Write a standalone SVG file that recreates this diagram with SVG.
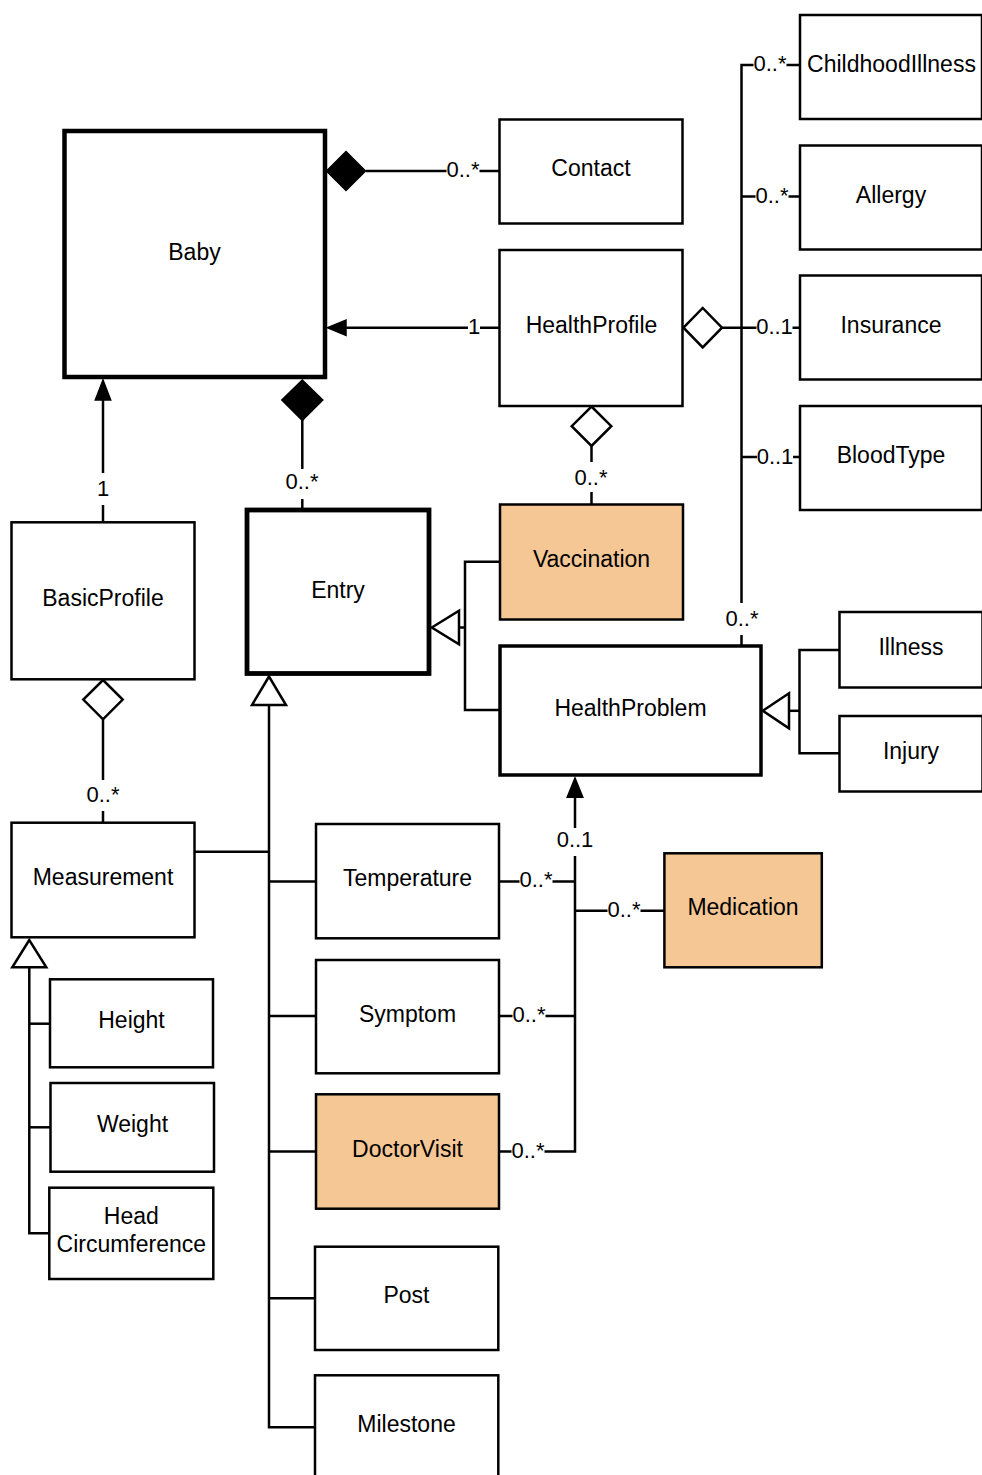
<svg xmlns="http://www.w3.org/2000/svg" width="982" height="1475" viewBox="0 0 982 1475">
<style>
.n{fill:#fff;stroke:#000;stroke-width:2.5}
.f{fill:#f5c795}
.t{font-family:"Liberation Sans",Arial,sans-serif;font-size:23px;fill:#000;text-anchor:middle}
.c{fill:none;stroke:#000;stroke-width:2.5}
.fill{fill:#000;stroke:#000;stroke-width:1.5;stroke-linejoin:miter}
.open{fill:#fff;stroke:#000;stroke-width:2.5;stroke-linejoin:miter}
.lb{fill:#fff}
.l{font-family:"Liberation Sans",Arial,sans-serif;font-size:22px;fill:#000;text-anchor:middle}
</style>
<rect width="982" height="1475" fill="#fff"/>
<g id="connectors">
<line class="c" x1="366" y1="171" x2="500" y2="171"/>
<polygon class="fill" points="326.5,171 346,151.5 365.5,171 346,190.5"/>
<line class="c" x1="345" y1="327.7" x2="500" y2="327.7"/>
<polygon class="fill" points="327.5,327.7 346,320 346,335.4"/>
<polyline class="c" points="800,65 741.5,65 741.5,646"/>
<line class="c" x1="741.5" y1="196.5" x2="800" y2="196.5"/>
<line class="c" x1="722" y1="327.7" x2="800" y2="327.7"/>
<line class="c" x1="741.5" y1="457" x2="800" y2="457"/>
<polygon class="open" points="683.5,327.7 702.7,308 722,327.7 702.7,347.4"/>
<line class="c" x1="591.5" y1="446" x2="591.5" y2="504.5"/>
<polygon class="open" points="591.5,406.5 611.3,426.2 591.5,446 571.7,426.2"/>
<line class="c" x1="302.3" y1="420" x2="302.3" y2="510"/>
<polygon class="fill" points="302.3,380 322.8,400 302.3,420.5 281.8,400"/>
<line class="c" x1="103" y1="399" x2="103" y2="522.3"/>
<polygon class="fill" points="103,380 95.3,400 110.7,400"/>
<line class="c" x1="103" y1="719.3" x2="103" y2="822.7"/>
<polygon class="open" points="103,680 122.7,699.6 103,719.3 83.3,699.6"/>
<polyline class="c" points="500,561.7 465,561.7 465,710 500,710"/>
<line class="c" x1="459" y1="627.5" x2="465" y2="627.5"/>
<polygon class="open" points="431.8,627.5 459,610.7 459,644.3"/>
<polyline class="c" points="269,705 269,1427.3 315,1427.3"/>
<line class="c" x1="194.7" y1="851.7" x2="269" y2="851.7"/>
<line class="c" x1="269" y1="881.5" x2="316" y2="881.5"/>
<line class="c" x1="269" y1="1016" x2="316" y2="1016"/>
<line class="c" x1="269" y1="1151.5" x2="316" y2="1151.5"/>
<line class="c" x1="269" y1="1298.3" x2="315" y2="1298.3"/>
<polygon class="open" points="269,676.5 252,705 286,705"/>
<polyline class="c" points="29.3,967.3 29.3,1233.3 49.3,1233.3"/>
<line class="c" x1="29.3" y1="1023.7" x2="50" y2="1023.7"/>
<line class="c" x1="29.3" y1="1127.3" x2="50.5" y2="1127.3"/>
<polygon class="open" points="29.3,940 12.3,967.3 46.3,967.3"/>
<polyline class="c" points="839.5,650 799.5,650 799.5,753.3 839.5,753.3"/>
<line class="c" x1="789" y1="710.8" x2="799.5" y2="710.8"/>
<polygon class="open" points="762.8,710.8 789,693.3 789,728.3"/>
<polyline class="c" points="575,796 575,1151.5 499,1151.5"/>
<line class="c" x1="499" y1="881.5" x2="575" y2="881.5"/>
<line class="c" x1="575" y1="910.7" x2="664.4" y2="910.7"/>
<line class="c" x1="499" y1="1016" x2="575" y2="1016"/>
<polygon class="fill" points="575,778 567.2,797.3 582.8,797.3"/>
</g>
<g id="labels">
<rect class="lb" x="446.5" y="158" width="33" height="26"/><text class="l" x="463" y="177">0..*</text>
<rect class="lb" x="468" y="315" width="12" height="26"/><text class="l" x="474" y="334">1</text>
<rect class="lb" x="753.5" y="52" width="33" height="26"/><text class="l" x="770" y="71">0..*</text>
<rect class="lb" x="755.5" y="183.5" width="33" height="26"/><text class="l" x="772" y="202.5">0..*</text>
<rect class="lb" x="756.5" y="314.7" width="36" height="26"/><text class="l" x="774.5" y="334">0..1</text>
<rect class="lb" x="757" y="444" width="36" height="26"/><text class="l" x="775" y="463.5">0..1</text>
<rect class="lb" x="574.5" y="462" width="33" height="30"/><text class="l" x="591" y="484.9">0..*</text>
<rect class="lb" x="285.5" y="469" width="33" height="30"/><text class="l" x="302" y="488.9">0..*</text>
<rect class="lb" x="97" y="473" width="12" height="32"/><text class="l" x="103" y="495.9">1</text>
<rect class="lb" x="86.5" y="780" width="33" height="31"/><text class="l" x="103" y="801.9">0..*</text>
<rect class="lb" x="725.5" y="603" width="33" height="32"/><text class="l" x="742" y="625.9">0..*</text>
<rect class="lb" x="557" y="828" width="36" height="28"/><text class="l" x="575" y="847.4">0..1</text>
<rect class="lb" x="519.5" y="868" width="33" height="26"/><text class="l" x="536" y="886.5">0..*</text>
<rect class="lb" x="607.5" y="897" width="33" height="26"/><text class="l" x="624" y="916.5">0..*</text>
<rect class="lb" x="512.5" y="1003" width="33" height="26"/><text class="l" x="529" y="1022">0..*</text>
<rect class="lb" x="511.5" y="1138" width="33" height="26"/><text class="l" x="528" y="1157.5">0..*</text>
</g>
<g id="Baby"><rect class="n" x="64.5" y="131" width="260.5" height="246" style="stroke-width:4.5"/><text class="t" x="194.5" y="260">Baby</text></g>
<g id="Contact"><rect class="n" x="499.5" y="119.5" width="183" height="104"/><text class="t" x="591" y="176">Contact</text></g>
<g id="HealthProfile"><rect class="n" x="499.5" y="250" width="183" height="156"/><text class="t" x="591.5" y="333">HealthProfile</text></g>
<g id="ChildhoodIllness"><rect class="n" x="800" y="15" width="182" height="104"/><text class="t" x="891.5" y="72">ChildhoodIllness</text></g>
<g id="Allergy"><rect class="n" x="800" y="145.5" width="182" height="104"/><text class="t" x="891" y="203">Allergy</text></g>
<g id="Insurance"><rect class="n" x="800" y="275.5" width="182" height="104"/><text class="t" x="891" y="333">Insurance</text></g>
<g id="BloodType"><rect class="n" x="800" y="406" width="182" height="104"/><text class="t" x="891" y="463">BloodType</text></g>
<g id="Vaccination"><rect class="n f" x="500" y="504.5" width="183" height="115"/><text class="t" x="591.5" y="567">Vaccination</text></g>
<g id="HealthProblem"><rect class="n" x="500" y="646" width="261" height="129" style="stroke-width:3.5"/><text class="t" x="630.5" y="716">HealthProblem</text></g>
<g id="Illness"><rect class="n" x="839.5" y="612" width="143" height="75.5"/><text class="t" x="911" y="655">Illness</text></g>
<g id="Injury"><rect class="n" x="839.5" y="716" width="143" height="75.5"/><text class="t" x="911" y="759">Injury</text></g>
<g id="BasicProfile"><rect class="n" x="11.5" y="522.3" width="183" height="157"/><text class="t" x="103" y="606">BasicProfile</text></g>
<g id="Entry"><rect class="n" x="247" y="510" width="182" height="163.5" style="stroke-width:4.8"/><text class="t" x="338" y="597.5">Entry</text></g>
<g id="Measurement"><rect class="n" x="11.5" y="822.7" width="183" height="114.6"/><text class="t" x="103" y="885">Measurement</text></g>
<g id="Height"><rect class="n" x="50" y="979.3" width="163" height="88"/><text class="t" x="131.5" y="1028.3">Height</text></g>
<g id="Weight"><rect class="n" x="50.5" y="1083" width="163.5" height="88.7"/><text class="t" x="132.5" y="1132.3">Weight</text></g>
<g id="HeadCircumference"><rect class="n" x="49.3" y="1187.7" width="164" height="91.3"/><text class="t" x="131.3" y="1224">Head</text><text class="t" x="131.3" y="1252.3">Circumference</text></g>
<g id="Temperature"><rect class="n" x="316" y="824" width="183" height="114.3"/><text class="t" x="407.5" y="886">Temperature</text></g>
<g id="Symptom"><rect class="n" x="316" y="960" width="183" height="113.3"/><text class="t" x="407.5" y="1021.7">Symptom</text></g>
<g id="DoctorVisit"><rect class="n f" x="316" y="1094.3" width="183" height="114.4"/><text class="t" x="407.5" y="1156.5">DoctorVisit</text></g>
<g id="Post"><rect class="n" x="315" y="1246.7" width="183.3" height="103.3"/><text class="t" x="406.5" y="1303.3">Post</text></g>
<g id="Milestone"><rect class="n" x="315" y="1375.3" width="183.3" height="110"/><text class="t" x="406.5" y="1431.7">Milestone</text></g>
<g id="Medication"><rect class="n f" x="664.4" y="853.3" width="157.4" height="114"/><text class="t" x="743" y="915.3">Medication</text></g>
</svg>
